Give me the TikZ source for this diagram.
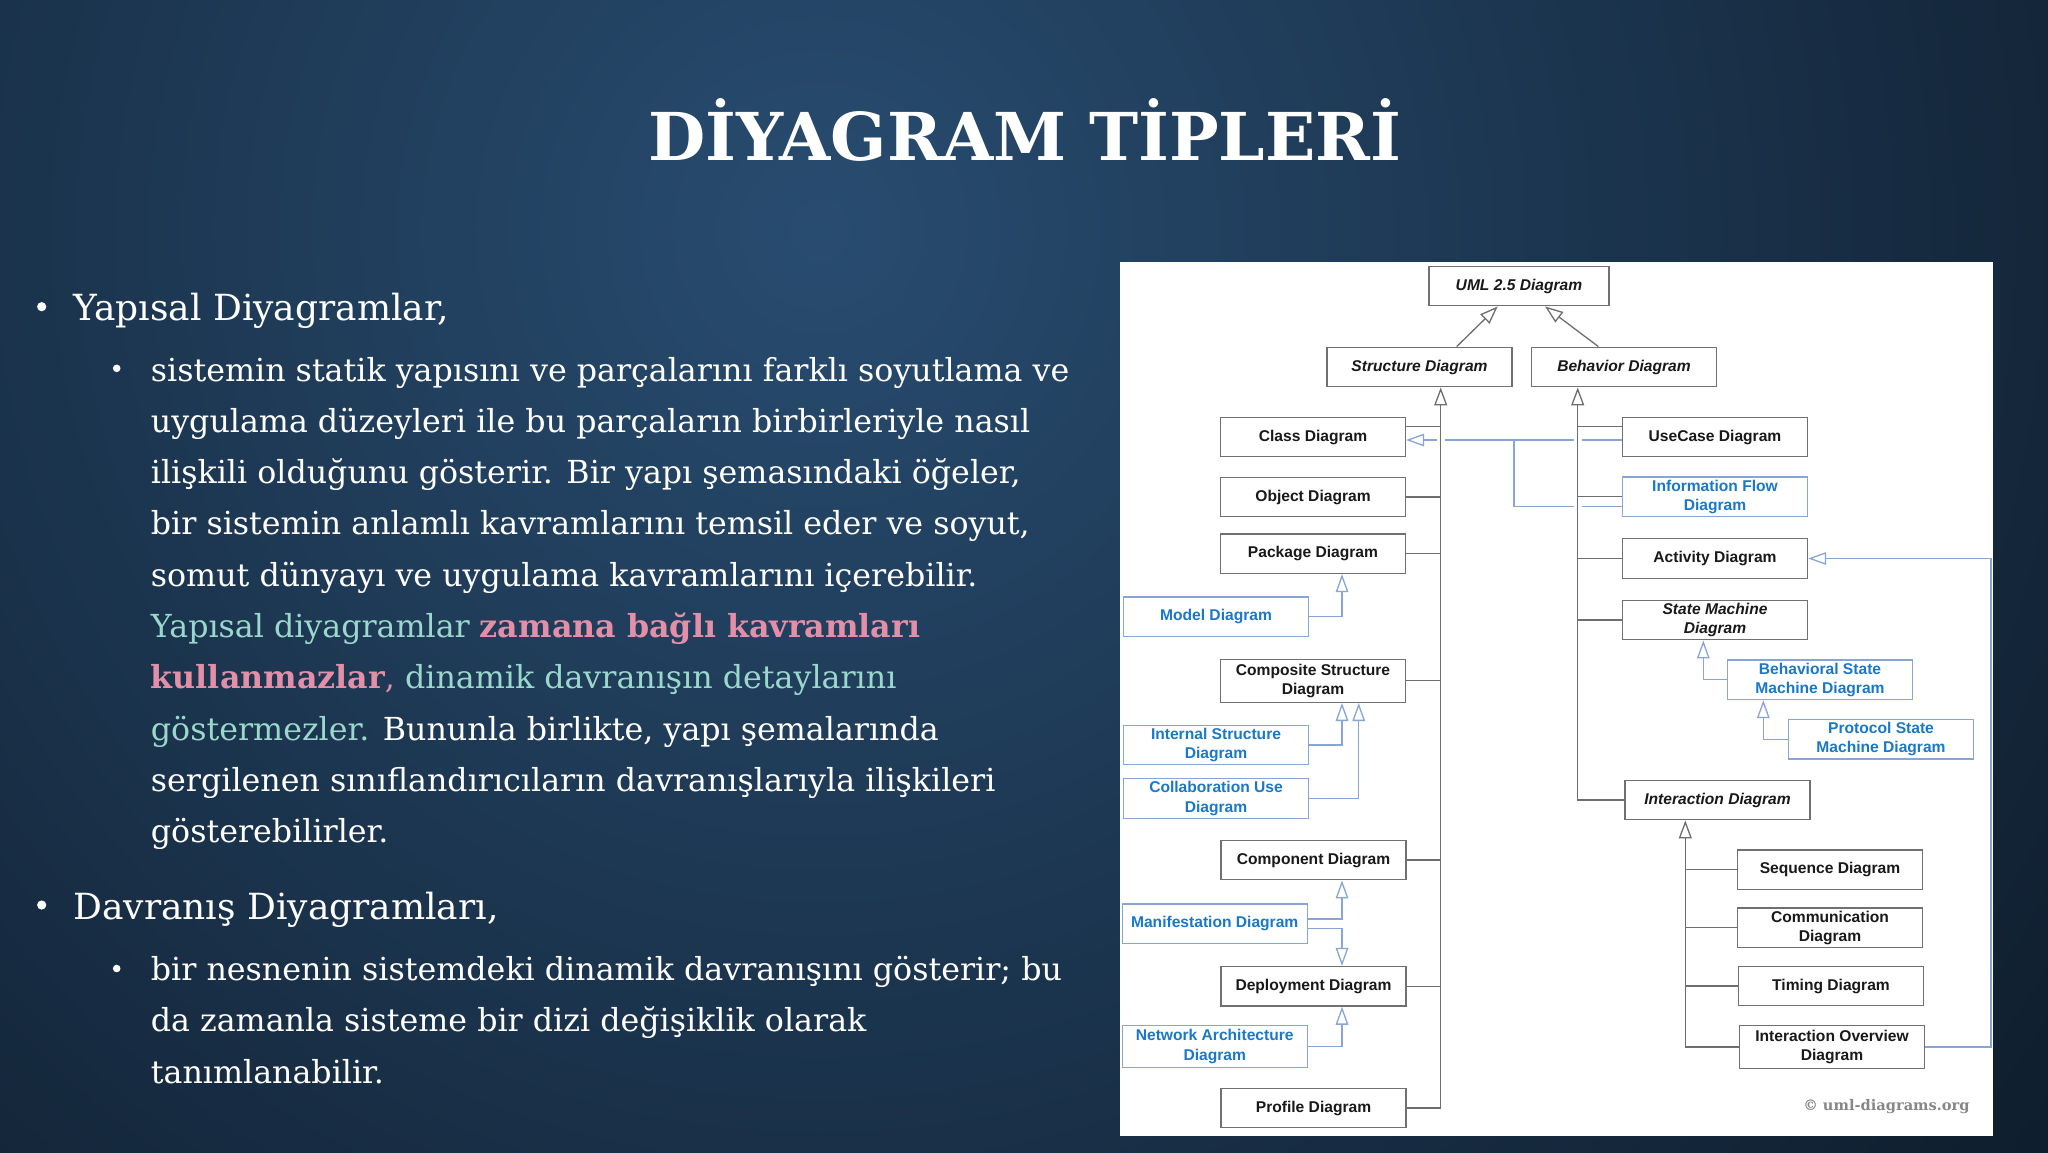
\documentclass[tikz,border=0pt]{standalone}
\usepackage{fontspec}
\setmainfont{DejaVu Serif}
\newfontfamily\boxfont{Liberation Sans}
\newfontfamily\titlefont{DejaVu Serif}
\usetikzlibrary{positioning,arrows.meta}

\definecolor{bgdark}{RGB}{9,18,29}
\definecolor{bglight}{RGB}{40,76,112}
\definecolor{boxgray}{RGB}{112,112,112}
\definecolor{linegray}{RGB}{110,110,110}
\definecolor{boxtext}{RGB}{25,25,25}
\definecolor{blueline}{RGB}{135,165,215}
\definecolor{bluetext}{RGB}{26,120,200}
\definecolor{yapiteal}{RGB}{154,216,204}
\definecolor{yapipink}{RGB}{228,143,168}
\definecolor{copygray}{RGB}{135,135,135}

\begin{document}
\begin{tikzpicture}[x=0.5pt, y=-0.5pt,
    diag/.style={draw=boxgray, line width=0.7pt, fill=white, minimum width=92.5pt,
        minimum height=19.75pt, inner sep=1pt, align=center, text=boxtext,
        font=\boxfont\bfseries\fontsize{7.8}{9.65}\selectfont},
    abstract/.style={diag, font=\boxfont\bfseries\itshape\fontsize{7.8}{9.65}\selectfont},
    extra/.style={diag, draw=blueline, text=bluetext},
    link/.style={draw=linegray, line width=0.65pt},
    gen/.style={link, -{Triangle[open, length=9pt, width=6.5pt]}},
    trunk/.style={gen, preaction={draw=white, line width=4pt, -, shorten <=3pt}},
    blink/.style={draw=blueline, line width=0.65pt},
    bgen/.style={blink, -{Triangle[open, length=9pt, width=6.3pt]}},
    dot/.style={circle, fill=white, inner sep=0pt},
    lvl1/.style={text=white, inner sep=0pt, font=\fontsize{18}{25.65}\selectfont},
    lvl2/.style={text=white, inner sep=0pt, font=\fontsize{15.85}{25.65}\selectfont}]

    % Background and panel
    \useasboundingbox (0,0) rectangle (2048,1152);
    \fill[bgdark] (0,0) rectangle (2048,1152);
    \begin{scope}
        \clip (0,0) rectangle (2048,1152);
        \shade[inner color=bglight, outer color=bgdark] (820,230) circle (1900);
    \end{scope}
    \fill[white] (1120,262) rectangle (1993,1136);

    % Title and text
    \node[anchor=base, text=white, inner sep=0pt,
          font=\titlefont\bfseries\fontsize{33}{40}\selectfont] (title) at (1025,160.7) {DİYAGRAM TİPLERİ};

    \node[dot, minimum size=4.6pt] (b1) at (41.7,306.7) {};
    \node[lvl1, anchor=base west] (yapisal) at (73,320) {Yapısal Diyagramlar,};
    \node[dot, minimum size=3.8pt] (b2) at (116.7,368.3) {};
    \node[lvl2, anchor=base west] (yapitext) at (150.5,381) {\parbox[t]{520pt}{%
        sistemin statik yapısını ve parçalarını farklı soyutlama ve\\
        uygulama düzeyleri ile bu parçaların birbirleriyle nasıl\\
        ilişkili olduğunu gösterir. Bir yapı şemasındaki öğeler,\\
        bir sistemin anlamlı kavramlarını temsil eder ve soyut,\\
        somut dünyayı ve uygulama kavramlarını içerebilir.\\
        \textcolor{yapiteal}{Yapısal diyagramlar} \textcolor{yapipink}{\bfseries zamana bağlı kavramları}\\
        \textcolor{yapipink}{\bfseries kullanmazlar}\textcolor{yapipink}{,} \textcolor{yapiteal}{dinamik davranışın detaylarını}\\
        \textcolor{yapiteal}{göstermezler.} Bununla birlikte, yapı şemalarında\\
        sergilenen sınıflandırıcıların davranışlarıyla ilişkileri\\
        gösterebilirler.}};

    \node[dot, minimum size=4.6pt] (b3) at (41.7,905) {};
    \node[lvl1, anchor=base west] (davranis) at (73,919) {Davranış Diyagramları,};
    \node[dot, minimum size=3.8pt] (b4) at (116.7,968.5) {};
    \node[lvl2, anchor=base west] (davtext) at (150.5,980.5) {\parbox[t]{520pt}{%
        bir nesnenin sistemdeki dinamik davranışını gösterir; bu\\
        da zamanla sisteme bir dizi değişiklik olarak\\
        tanımlanabilir.}};

    % Place nodes
    \node[abstract, minimum width=90pt] (uml) at (1519,286)     {UML 2.5 Diagram};
    \node[abstract] (struct)    at (1419.5,367) {Structure Diagram};
    \node[abstract] (behav)     at (1624,367)   {Behavior Diagram};

    \node[diag]     (class)     at (1313,437)   {Class Diagram};
    \node[diag]     (object)    at (1313,497)   {Object Diagram};
    \node[diag]     (package)   at (1313,553.7) {Package Diagram};
    \node[extra]    (model)     at (1216,616.7) {Model Diagram};
    \node[diag, minimum height=21.5pt] (composite) at (1313,680.8) {Composite Structure\\Diagram};
    \node[extra]    (internal)  at (1216,745)   {Internal Structure\\Diagram};
    \node[extra]    (collab)    at (1216,798.5) {Collaboration Use\\Diagram};
    \node[diag]     (component) at (1313.5,860) {Component Diagram};
    \node[extra]    (manifest)  at (1214.7,923.7) {Manifestation Diagram};
    \node[diag]     (deploy)    at (1313.5,986.3) {Deployment Diagram};
    \node[extra, minimum height=20.8pt] (network) at (1214.7,1046.5) {Network Architecture\\Diagram};
    \node[diag]     (profile)   at (1313.5,1108) {Profile Diagram};

    \node[diag]     (usecase)   at (1715,437)   {UseCase Diagram};
    \node[extra]    (infoflow)  at (1715,496.7) {Information Flow\\Diagram};
    \node[diag]     (activity)  at (1715,558.5) {Activity Diagram};
    \node[abstract] (statem)    at (1715,620)   {State Machine\\Diagram};
    \node[extra]    (bsm)       at (1820,679.7) {Behavioral State\\Machine Diagram};
    \node[extra]    (psm)       at (1881,739.3) {Protocol State\\Machine Diagram};
    \node[abstract] (interact)  at (1717.5,800) {Interaction Diagram};
    \node[diag]     (sequence)  at (1830,869.7) {Sequence Diagram};
    \node[diag]     (comm)      at (1830,927.7) {Communication\\Diagram};
    \node[diag]     (timing)    at (1831,986)   {Timing Diagram};
    \node[diag, minimum height=21.5pt] (overview) at (1832,1047) {Interaction Overview\\Diagram};

    \node[anchor=base east, inner sep=0pt, text=copygray,
          font=\bfseries\fontsize{7.3}{9}\selectfont] (copy) at (1970,1110) {© uml-diagrams.org};

    \coordinate (strunk) at (1440.7,0);
    \coordinate (btrunk) at (1577.7,0);
    \coordinate (itrunk) at (1685.3,0);
    \coordinate (bjoin)  at (1514,0);
    \coordinate (rim)    at (1991,0);

    % Blue edges
    \draw[bgen]  ([yshift=-1.5pt]usecase.west) -- ([yshift=-1.5pt]class.east);
    \draw[blink] ([yshift=-5pt]infoflow.west) -| ([yshift=-1.5pt]class.east -| bjoin);
    \draw[bgen]  (model.east)    -| ([xshift=14.5pt]package.south);
    \draw[bgen]  (internal.east) -| ([xshift=14.5pt]composite.south);
    \draw[bgen]  (collab.east)   -| ([xshift=22.85pt]composite.south);
    \draw[bgen]  ([yshift=2.35pt]manifest.east)  -| ([xshift=14.25pt]component.south);
    \draw[bgen]  ([yshift=-2.3pt]manifest.east)  -| ([xshift=14.25pt]deploy.north);
    \draw[bgen]  (network.east)  -| ([xshift=14.25pt]deploy.south);
    \draw[bgen]  (bsm.west)      -| ([xshift=-5.85pt]statem.south);
    \draw[bgen]  (psm.west)      -| ([xshift=-28.35pt]bsm.south);
    \draw[bgen]  (overview.east) -| (rim |- activity.east) -- (activity.east);

    % Generalization edges
    \draw[gen] ([xshift=18.6pt]struct.north) -- ([xshift=-10.65pt]uml.south);
    \draw[gen] ([xshift=-12.85pt]behav.north) -- ([xshift=13pt]uml.south);

    \draw[trunk] (profile.east)  -| (struct.south -| strunk);
    \draw[trunk] (interact.west) -| (behav.south -| btrunk);
    \draw[trunk] (overview.west) -| (interact.south -| itrunk);

    \draw[link] ([yshift=5.15pt]class.east) -- ([yshift=5.15pt]class.east -| strunk);
    \foreach \n in {object,package,composite,component,deploy}
        \draw[link] (\n.east) -- (\n.east -| strunk);
    \draw[link] ([yshift=5.15pt]usecase.west) -- ([yshift=5.15pt]usecase.west -| btrunk);
    \foreach \n in {infoflow,activity,statem}
        \draw[link] (\n.west) -- (\n.west -| btrunk);
    \foreach \n in {sequence,comm,timing}
        \draw[link] (\n.west) -- (\n.west -| itrunk);
\end{tikzpicture}
\end{document}
